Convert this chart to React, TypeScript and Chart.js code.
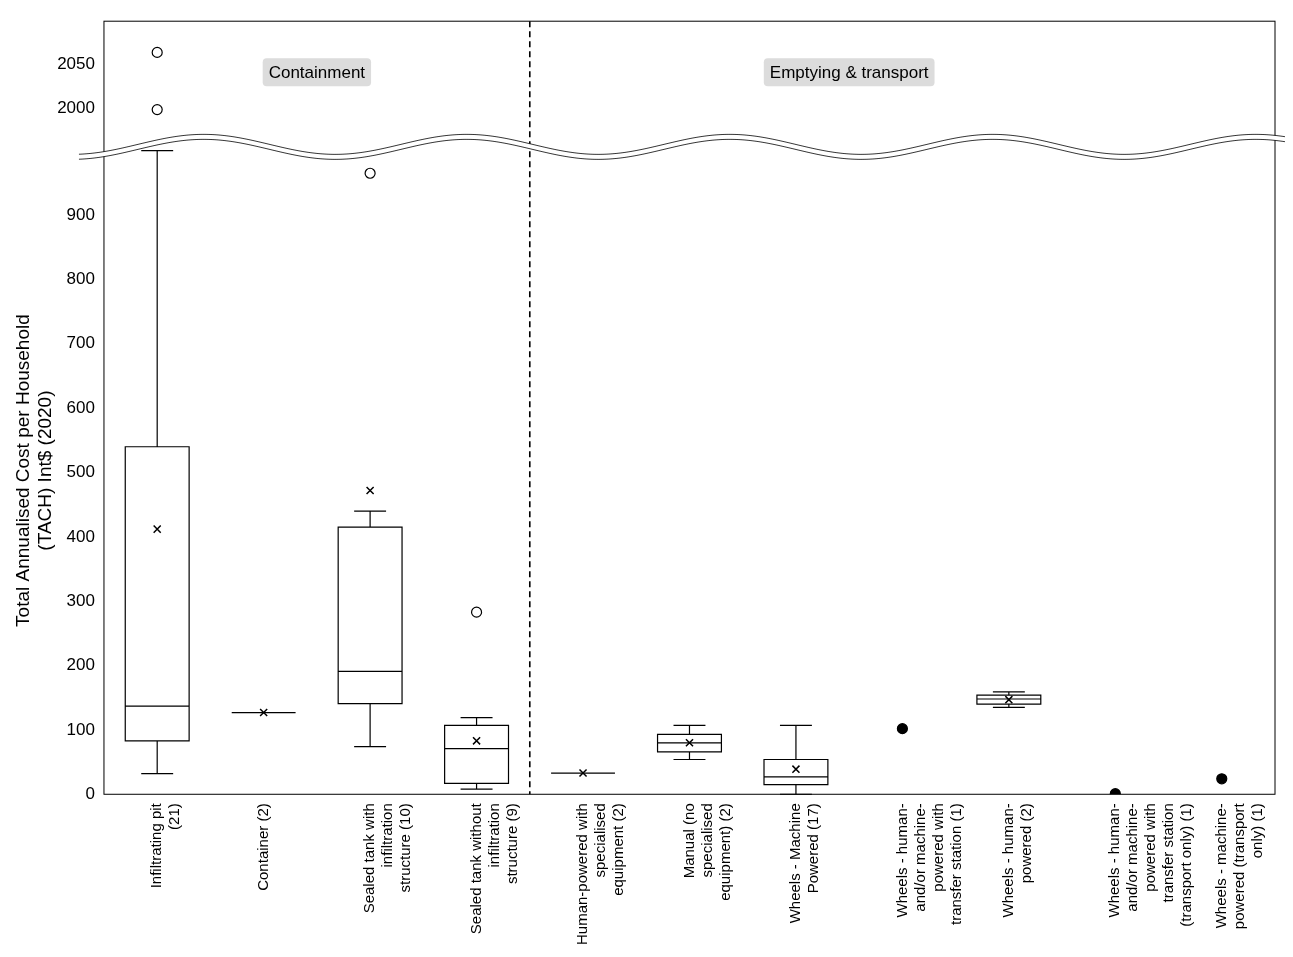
import { useEffect, useRef } from "react"
import { Chart, registerables } from "chart.js"

Chart.register(...registerables)

const categories = [
  ["Infiltrating pit", "(21)"],
  ["Container (2)"],
  ["Sealed tank with", "infiltration", "structure (10)"],
  ["Sealed tank without", "infiltration", "structure (9)"],
  ["Human-powered with", "specialised", "equipment (2)"],
  ["Manual (no", "specialised", "equipment) (2)"],
  ["Wheels - Machine", "Powered (17)"],
  ["Wheels - human-", "and/or machine-", "powered with", "transfer station (1)"],
  ["Wheels - human-", "powered (2)"],
  ["Wheels - human-", "and/or machine-", "powered with", "transfer station", "(transport only) (1)"],
  ["Wheels - machine-", "powered (transport", "only) (1)"],
]

// [whiskerLow, q1, median, q3, whiskerHigh], null = single observation
const boxes: (number[] | null)[] = [
  [32, 83, 137, 540, 1000],
  [127, 127, 127, 127, 127],
  [74, 141, 191, 415, 440],
  [8, 17, 71, 107, 119],
  [33, 33, 33, 33, 33],
  [54, 66, 80, 93, 107],
  [0, 15, 27, 54, 107],
  null,
  [135, 140, 148, 154, 159],
  null,
  null,
]
const means = [412, 127, 472, 83, 33, 80, 39, null, 147, null, null]
const singles = [null, null, null, null, null, null, null, 102, null, 1, 24]
const outliersLow = [null, null, 965, 283, null, null, null, null, null, null, null]
const outliersHighA = [2064, null, null, null, null, null, null, null, null, null, null]
const outliersHighB = [1998, null, null, null, null, null, null, null, null, null, null]

const lowTicks = [0, 100, 200, 300, 400, 500, 600, 700, 800, 900]
const highTicks = [2000, 2050]

const boxPlugin = {
  id: "boxes",
  afterDatasetsDraw(chart: any) {
    const { ctx, chartArea, scales } = chart
    const x = scales.x
    const y = scales.y
    const y2 = scales.y2
    const step = x.getPixelForValue(1) - x.getPixelForValue(0)
    const hw = step * 0.3
    ctx.save()
    ctx.strokeStyle = "#000"
    ctx.lineWidth = 1.2
    boxes.forEach((b, i) => {
      if (!b) return
      const cx = x.getPixelForValue(i)
      const [lo, q1, med, q3, hi] = b.map((v) => y.getPixelForValue(v))
      ctx.beginPath()
      ctx.moveTo(cx, q1); ctx.lineTo(cx, lo)
      ctx.moveTo(cx - hw / 2, lo); ctx.lineTo(cx + hw / 2, lo)
      ctx.moveTo(cx, q3); ctx.lineTo(cx, hi)
      ctx.moveTo(cx - hw / 2, hi); ctx.lineTo(cx + hw / 2, hi)
      ctx.rect(cx - hw, q3, hw * 2, q1 - q3)
      ctx.moveTo(cx - hw, med); ctx.lineTo(cx + hw, med)
      ctx.stroke()
    })
    // dashed divider
    const dx = (x.getPixelForValue(3) + x.getPixelForValue(4)) / 2
    ctx.setLineDash([6, 4])
    ctx.lineWidth = 1.6
    ctx.beginPath()
    ctx.moveTo(dx, chartArea.top); ctx.lineTo(dx, chartArea.bottom)
    ctx.stroke()
    ctx.setLineDash([])
    // frame
    ctx.lineWidth = 1
    ctx.strokeRect(chartArea.left, chartArea.top, chartArea.right - chartArea.left, chartArea.bottom - chartArea.top)
    // break wave
    const by = y2.bottom
    const x0 = chartArea.left - 25
    const x1 = chartArea.right + 25
    const f = (px: number) => -10 * Math.sin(((px - 130) / 263) * 2 * Math.PI)
    ctx.fillStyle = "#fff"
    ctx.beginPath()
    for (let px = x0; px <= x1; px += 2) {
      const py = by - 2.5 + f(px)
      px === x0 ? ctx.moveTo(px, py) : ctx.lineTo(px, py)
    }
    for (let px = x1; px >= x0; px -= 2) ctx.lineTo(px, by + 2.5 + f(px))
    ctx.closePath()
    ctx.fill()
    ctx.lineWidth = 0.8
    for (const off of [-2.5, 2.5]) {
      ctx.beginPath()
      for (let px = x0; px <= x1; px += 2) {
        const py = by + off + f(px)
        px === x0 ? ctx.moveTo(px, py) : ctx.lineTo(px, py)
      }
      ctx.stroke()
    }
    // section labels
    ctx.font = "17px 'Liberation Sans', Arial, sans-serif"
    ctx.textAlign = "center"
    ctx.textBaseline = "middle"
    const ly = y2.getPixelForValue(2041)
    const labels: [string, number][] = [
      ["Containment", 1.5],
      ["Emptying & transport", 6.5],
    ]
    labels.forEach(([t, pos]) => {
      const cx = x.getPixelForValue(0) + step * pos
      const w = ctx.measureText(t).width + 12
      ctx.fillStyle = "#dcdcdc"
      ctx.beginPath()
      ctx.roundRect(cx - w / 2, ly - 14, w, 28, 4)
      ctx.fill()
      ctx.fillStyle = "#000"
      ctx.fillText(t, cx, ly + 1)
    })
    ctx.restore()
  },
}

export default function App() {
  const canvasRef = useRef<HTMLCanvasElement>(null)
  const chartRef = useRef<Chart | null>(null)

  useEffect(() => {
    if (!canvasRef.current) return
    if (chartRef.current) chartRef.current.destroy()
    const font = { family: "'Liberation Sans', Arial, sans-serif", size: 17 }
    const pts = { showLine: false, pointRadius: 5, borderColor: "#000", borderWidth: 1.2 }

    chartRef.current = new Chart(canvasRef.current, {
      type: "line",
      data: {
        labels: categories,
        datasets: [
          { ...pts, data: means, yAxisID: "y", pointStyle: "crossRot", borderWidth: 1.5 },
          { ...pts, data: singles, yAxisID: "y", backgroundColor: "#000" },
          { ...pts, data: outliersLow, yAxisID: "y", backgroundColor: "#fff" },
          { ...pts, data: outliersHighA, yAxisID: "y2", backgroundColor: "#fff" },
          { ...pts, data: outliersHighB, yAxisID: "y2", backgroundColor: "#fff" },
        ],
      },
      options: {
        animation: false,
        responsive: true,
        maintainAspectRatio: false,
        layout: { padding: { top: 0, right: 10, left: 0 } },
        plugins: { legend: { display: false }, tooltip: { enabled: false } },
        scales: {
          x: {
            type: "category",
            offset: true,
            grid: { display: false, drawTicks: true, tickLength: 6 },
            border: { display: false },
            ticks: { font: { ...font, size: 15 }, color: "#000", minRotation: 90, maxRotation: 90, autoSkip: false },
          },
          y: {
            type: "linear",
            stack: "v",
            stackWeight: 644,
            min: 0,
            max: 1006,
            grid: { display: false, tickLength: 6 },
            border: { display: false },
            afterBuildTicks: (s: any) => { s.ticks = lowTicks.map((v) => ({ value: v })) },
            ticks: { font, color: "#000", callback: (v: any) => String(v) },
            title: {
              display: true,
              text: ["Total Annualised Cost per Household", "(TACH) Int$ (2020)"],
              font: { ...font, size: 19 },
              color: "#000",
              padding: { bottom: 6 },
            },
          },
          y2: {
            type: "linear",
            stack: "v",
            stackWeight: 125,
            min: 1955,
            max: 2100,
            grid: { display: false, tickLength: 6 },
            border: { display: false },
            afterBuildTicks: (s: any) => { s.ticks = highTicks.map((v) => ({ value: v })) },
            ticks: { font, color: "#000", callback: (v: any) => String(v) },
          },
        },
      },
      plugins: [boxPlugin],
    } as any)

    return () => {
      if (chartRef.current) chartRef.current.destroy()
    }
  }, [])

  return (
    <div style={{ width: 1277, height: 940 }}>
      <canvas ref={canvasRef}></canvas>
    </div>
  )
}
